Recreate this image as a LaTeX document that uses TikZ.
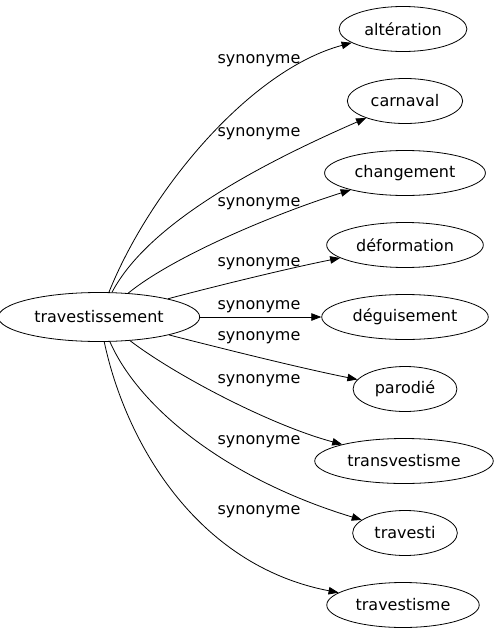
\documentclass[tikz,border=0pt]{standalone}
\usepackage{fontspec}
\setmainfont{DejaVu Sans}
\usepackage{tikz}
\usetikzlibrary{shapes.geometric, arrows.meta}

\begin{document}
\begin{tikzpicture}[x=1pt, y=-1pt]
\tikzset{
  term/.style={ellipse,draw=black,line width=0.8pt,inner xsep=6.5pt,inner ysep=0pt,minimum height=45pt,font=\fontsize{16}{19}\selectfont},
  root/.style={term,minimum width=190pt,minimum height=49pt},
  syn/.style={-{Triangle[length=10pt,width=7.5pt]},line width=0.8pt,draw=black},
  lab/.style={font=\fontsize{16}{19}\selectfont,inner sep=0pt}
}
\useasboundingbox (0,0) rectangle (493,635);
% ---- source
\node[root] (trav) at (99,317) {travestissement};
% ---- synonyms
\node[term] (alt)    at (403,29)  {altération};
\node[term] (carn)   at (405,101) {carnaval};
\node[term] (chg)    at (405,173) {changement};
\node[term] (defo)   at (405,245) {déformation};
\node[term] (degu)   at (405,317) {déguisement};
\node[term] (paro)   at (405,389) {parodié};
\node[term] (transv) at (404,461) {transvestisme};
\node[term] (travi)  at (405,533) {travesti};
\node[term] (travm)  at (403,605) {travestisme};
% ---- labels
\node[lab] (l1) at (259,61)  {synonyme};
\node[lab] (l2) at (259,134) {synonyme};
\node[lab] (l3) at (259,204) {synonyme};
\node[lab] (l4) at (259,264) {synonyme};
\node[lab] (l5) at (259,307) {synonyme};
\node[lab] (l6) at (259,338) {synonyme};
\node[lab] (l7) at (259,381) {synonyme};
\node[lab] (l8) at (259,442) {synonyme};
\node[lab] (l9) at (259,512) {synonyme};
% ---- edges
\draw[syn] (trav) .. controls (150,190) and (250,70) .. (alt);
\draw[syn] (trav) .. controls (150,220) and (270,160) .. (carn);
\draw[syn] (trav) .. controls (175,255) and (280,212) .. (chg);
\draw[syn] (trav) .. controls (220,285) and (290,268) .. (defo);
\draw[syn] (trav) -- (degu);
\draw[syn] (trav) .. controls (220,348) and (300,368) .. (paro);
\draw[syn] (trav) .. controls (175,375) and (270,425) .. (transv);
\draw[syn] (trav) .. controls (140,410) and (230,480) .. (travi);
\draw[syn] (trav) .. controls (125,440) and (195,565) .. (travm);
\end{tikzpicture}
\end{document}
